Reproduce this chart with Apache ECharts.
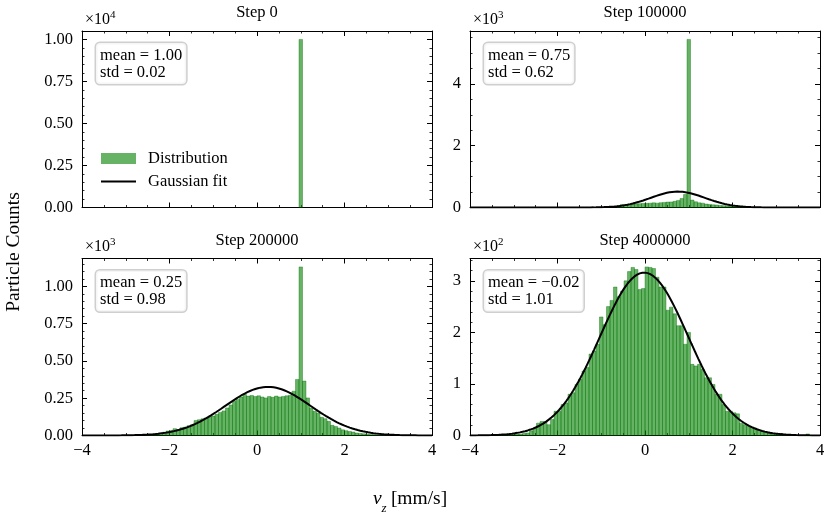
<!DOCTYPE html>
<html>
<head>
<meta charset="utf-8">
<script src="https://cdn.jsdelivr.net/npm/echarts@6/dist/echarts.min.js"></script>
<style>
html, body { margin: 0; padding: 0; background: #fff; }
#container { width: 830px; height: 516px; }
</style>
</head>
<body>
<div id="container"></div>
<script>
// histogram: 100 bins of width 0.08 from -4 to 4
var binStart = -4;
var binWidth = 0.08;

var stepTitles = ['Step 0', 'Step 100000', 'Step 200000', 'Step 4000000'];
var fitMean = [1.00, 0.75, 0.25, -0.02];
var fitStd = [0.02, 0.62, 0.98, 1.01];
var meanText = ['1.00', '0.75', '0.25', '\u22120.02'];
var stdText = ['0.02', '0.62', '0.98', '1.01'];
var nParticles = 10000;

var counts0 = [
  0,0,0,0,0,0,0,0,0,0,
  0,0,0,0,0,0,0,0,0,0,
  0,0,0,0,0,0,0,0,0,0,
  0,0,0,0,0,0,0,0,0,0,
  0,0,0,0,0,0,0,0,0,0,
  0,0,0,0,0,0,0,0,0,0,
  0,0,10000,0,0,0,0,0,0,0,
  0,0,0,0,0,0,0,0,0,0,
  0,0,0,0,0,0,0,0,0,0,
  0,0,0,0,0,0,0,0,0,0
];
var counts1 = [
  0,0,0,0,0,0,0,0,0,0,
  0,0,0,0,0,0,0,0,0,0,
  0,0,0,0,0,0,0,0,0,0,
  0,0,0,0,0,0,0,0,0,0,
  0,0,60,90,100,108,115,120,125,130,
  135,140,150,140,155,165,175,180,200,230,
  290,420,5440,240,185,150,140,110,100,85,
  80,65,60,52,45,40,30,20,12,6,
  3,0,0,0,0,0,0,0,0,0,
  0,0,0,0,0,0,0,0,0,0
];
var counts2 = [
  0,0,0,0,0,0,0,0,0,0,
  0,0,0,0,0,0,0,0,2,4,
  6,10,14,22,30,34,46,38,52,56,
  66,72,100,106,112,118,125,130,142,155,
  165,185,205,230,242,258,275,264,268,262,
  266,258,252,262,256,264,258,262,266,270,
  297,376,1130,365,252,185,162,151,122,113,
  95,68,61,50,38,32,27,23,16,14,
  11,9,7,5,4,2,1,1,0,0,
  0,0,0,0,0,0,0,0,0,0
];
var counts3 = [
  0,0,0,0,0,0,0,2,1,1,
  2,1,2,3,3,4,5,9,14,24,
  27,27,21,31,47,47,60,63,80,83,
  99,109,125,132,158,164,177,230,215,250,
  262,288,269,280,300,318,326,322,283,285,
  327,326,324,307,288,288,243,249,236,213,
  213,177,200,138,135,138,128,112,112,99,
  80,80,60,47,47,44,42,24,21,18,
  16,14,11,8,7,5,4,3,3,2,
  1,1,1,0,0,0,3,0,0,0
];
var allCounts = [counts0, counts1, counts2, counts3];

// y tick labels: major step, minor splits, scale exponent
var yMajor = [2500, 2000, 250, 100];
var yMinorSplit = [5, 4, 5, 5];
var yExp = [4, 3, 3, 2];
var yDecimals = [2, 0, 2, 0];
var xTicks = [-4, -2, 0, 2, 4];

var FONT = '"Liberation Serif", "Times New Roman", serif';
var panels = [
  { left: 82, top: 31, h: 176.5 },
  { left: 470, top: 31, h: 176.5 },
  { left: 82, top: 258.5, h: 177 },
  { left: 470, top: 258.5, h: 177 }
];
var W = 350;

var dom = document.getElementById('container');
var myChart = echarts.init(dom);

function minus(s) { return String(s).replace('-', '\u2212'); }

function makeAxes(dim, gi, min, max, major, minor, fmt, showLabels) {
  var sides = dim === 'x' ? ['bottom', 'top'] : ['left', 'right'];
  var out = [];
  sides.forEach(function (pos, s) {
    out.push({
      type: 'value', gridIndex: gi, position: pos, min: min, max: max, interval: major,
      axisLine: { show: true, onZero: false, lineStyle: { color: '#000', width: 1 } },
      axisTick: { show: true, inside: true, length: 5, lineStyle: { color: '#000', width: 1 } },
      axisLabel: {
        show: s === 0 && showLabels,
        formatter: function (v) { return '{t|' + fmt(v) + '}'; },
        rich: { t: { fontFamily: FONT, fontSize: 16.5, color: '#000' } },
        color: '#000', fontFamily: FONT, fontSize: 16.5, margin: dim === 'x' ? 7 : 9,
        showMaxLabel: dim === 'x', showMinLabel: true
      },
      splitLine: { show: false }
    });
    out.push({
      type: 'value', gridIndex: gi, position: pos, min: min, max: max, interval: minor,
      axisLine: { show: false, onZero: false },
      axisTick: { show: true, inside: true, length: 2.5, lineStyle: { color: '#000', width: 0.8 } },
      axisLabel: { show: false },
      splitLine: { show: false }
    });
  });
  return out;
}

function renderBar(params, api) {
  var a = api.coord([api.value(0), api.value(2)]);
  var b = api.coord([api.value(1), 0]);
  return {
    type: 'rect',
    shape: { x: a[0], y: a[1], width: b[0] - a[0], height: b[1] - a[1] },
    style: { fill: 'rgba(0,128,0,0.6)', stroke: 'rgba(0,110,0,0.75)', lineWidth: 0.5 }
  };
}

var grids = [], xAxes = [], yAxes = [], series = [], graphics = [];

panels.forEach(function (p, gi) {
  var counts = allCounts[gi];
  var ymax = Math.max.apply(null, counts) * 1.05;
  grids.push({ left: p.left, top: p.top, width: W, height: p.h });

  xAxes = xAxes.concat(makeAxes('x', gi, xTicks[0], xTicks[xTicks.length - 1], 2, 0.5,
    function (v) { return minus(v); }, gi >= 2));
  var sc = Math.pow(10, yExp[gi]), dec = yDecimals[gi];
  yAxes = yAxes.concat(makeAxes('y', gi, 0, ymax, yMajor[gi], yMajor[gi] / yMinorSplit[gi],
    function (v) { return (v / sc).toFixed(dec); }, true));

  var bars = [];
  counts.forEach(function (c, k) {
    if (c > 0) bars.push([binStart + k * binWidth, binStart + (k + 1) * binWidth, c]);
  });
  series.push({
    type: 'custom', name: 'Distribution', xAxisIndex: gi * 4, yAxisIndex: gi * 4,
    renderItem: renderBar, data: bars, encode: { x: [0, 1], y: 2 },
    itemStyle: { color: 'rgb(102,179,102)' }, clip: true, z: 2
  });

  // Gaussian fit drawn from the fitted mean / std (no curve visible for step 0)
  var curve = [];
  if (gi > 0) {
    var amp = nParticles * binWidth / (fitStd[gi] * Math.sqrt(2 * Math.PI));
    for (var i = 0; i <= 400; i++) {
      var x = -4 + i * 0.02;
      var z = (x - fitMean[gi]) / fitStd[gi];
      curve.push([x, amp * Math.exp(-0.5 * z * z)]);
    }
  }
  series.push({
    type: 'line', name: 'Gaussian fit', xAxisIndex: gi * 4, yAxisIndex: gi * 4,
    data: curve, symbol: 'none', showSymbol: false, clip: true,
    lineStyle: { color: '#000', width: 2 }, itemStyle: { color: '#000' }, z: 3
  });

  // panel title
  graphics.push({
    type: 'text', x: p.left + W / 2, y: p.top - 18,
    style: { text: stepTitles[gi], font: '16.5px ' + FONT, fill: '#000', align: 'center', verticalAlign: 'middle' }
  });
  // scale exponent
  graphics.push({
    type: 'text', x: p.left + 3, y: p.top - 11.5,
    style: { text: '\u00d710', font: '16px ' + FONT, fill: '#000', align: 'left', verticalAlign: 'middle' }
  });
  graphics.push({
    type: 'text', x: p.left + 28, y: p.top - 16,
    style: { text: String(yExp[gi]), font: '11px ' + FONT, fill: '#000', align: 'left', verticalAlign: 'middle' }
  });
  // stats box
  graphics.push({
    type: 'text', x: p.left + 14, y: p.top + 12, z: 10,
    style: {
      text: 'mean = ' + meanText[gi] + '\nstd = ' + stdText[gi],
      font: '16.5px ' + FONT, fill: '#000', lineHeight: 17,
      align: 'left', verticalAlign: 'top',
      backgroundColor: 'rgba(255,255,255,0.8)', borderColor: '#cfcfcf', borderWidth: 1.5,
      borderRadius: 4, padding: [4, 4, 3, 4]
    }
  });
});

// figure axis labels
graphics.push({
  type: 'text', x: 14, y: 252, rotation: Math.PI / 2,
  style: { text: 'Particle Counts', font: '19.5px ' + FONT, fill: '#000', align: 'center', verticalAlign: 'middle' }
});
graphics.push({
  type: 'text', x: 373, y: 499,
  style: { text: 'v', font: 'italic 19.5px ' + FONT, fill: '#000', align: 'left', verticalAlign: 'middle' }
});
graphics.push({
  type: 'text', x: 381.5, y: 509,
  style: { text: 'z', font: 'italic 13px ' + FONT, fill: '#000', align: 'left', verticalAlign: 'middle' }
});
graphics.push({
  type: 'text', x: 386, y: 499,
  style: { text: ' [mm/s]', font: '19.5px ' + FONT, fill: '#000', align: 'left', verticalAlign: 'middle' }
});

var option = {
  animation: false,
  backgroundColor: '#fff',
  textStyle: { fontFamily: FONT, fontSize: 16.5, color: '#000' },
  grid: grids,
  xAxis: xAxes,
  yAxis: yAxes,
  legend: {
    left: 96, top: 145, orient: 'vertical', itemWidth: 35, itemHeight: 11, itemGap: 6,
    textStyle: { fontFamily: FONT, fontSize: 16.5, color: '#000', padding: [0, 0, 0, 7] },
    data: [
      { name: 'Distribution', icon: 'rect', itemStyle: { color: 'rgb(102,179,102)', borderWidth: 0 } },
      { name: 'Gaussian fit', icon: 'path://M0,0 L35,0 L35,2 L0,2 Z', itemStyle: { color: '#000', borderWidth: 0 } }
    ]
  },
  series: series,
  graphic: graphics
};

if (option && typeof option === 'object') {
  myChart.setOption(option, true);
}
</script>
</body>
</html>
